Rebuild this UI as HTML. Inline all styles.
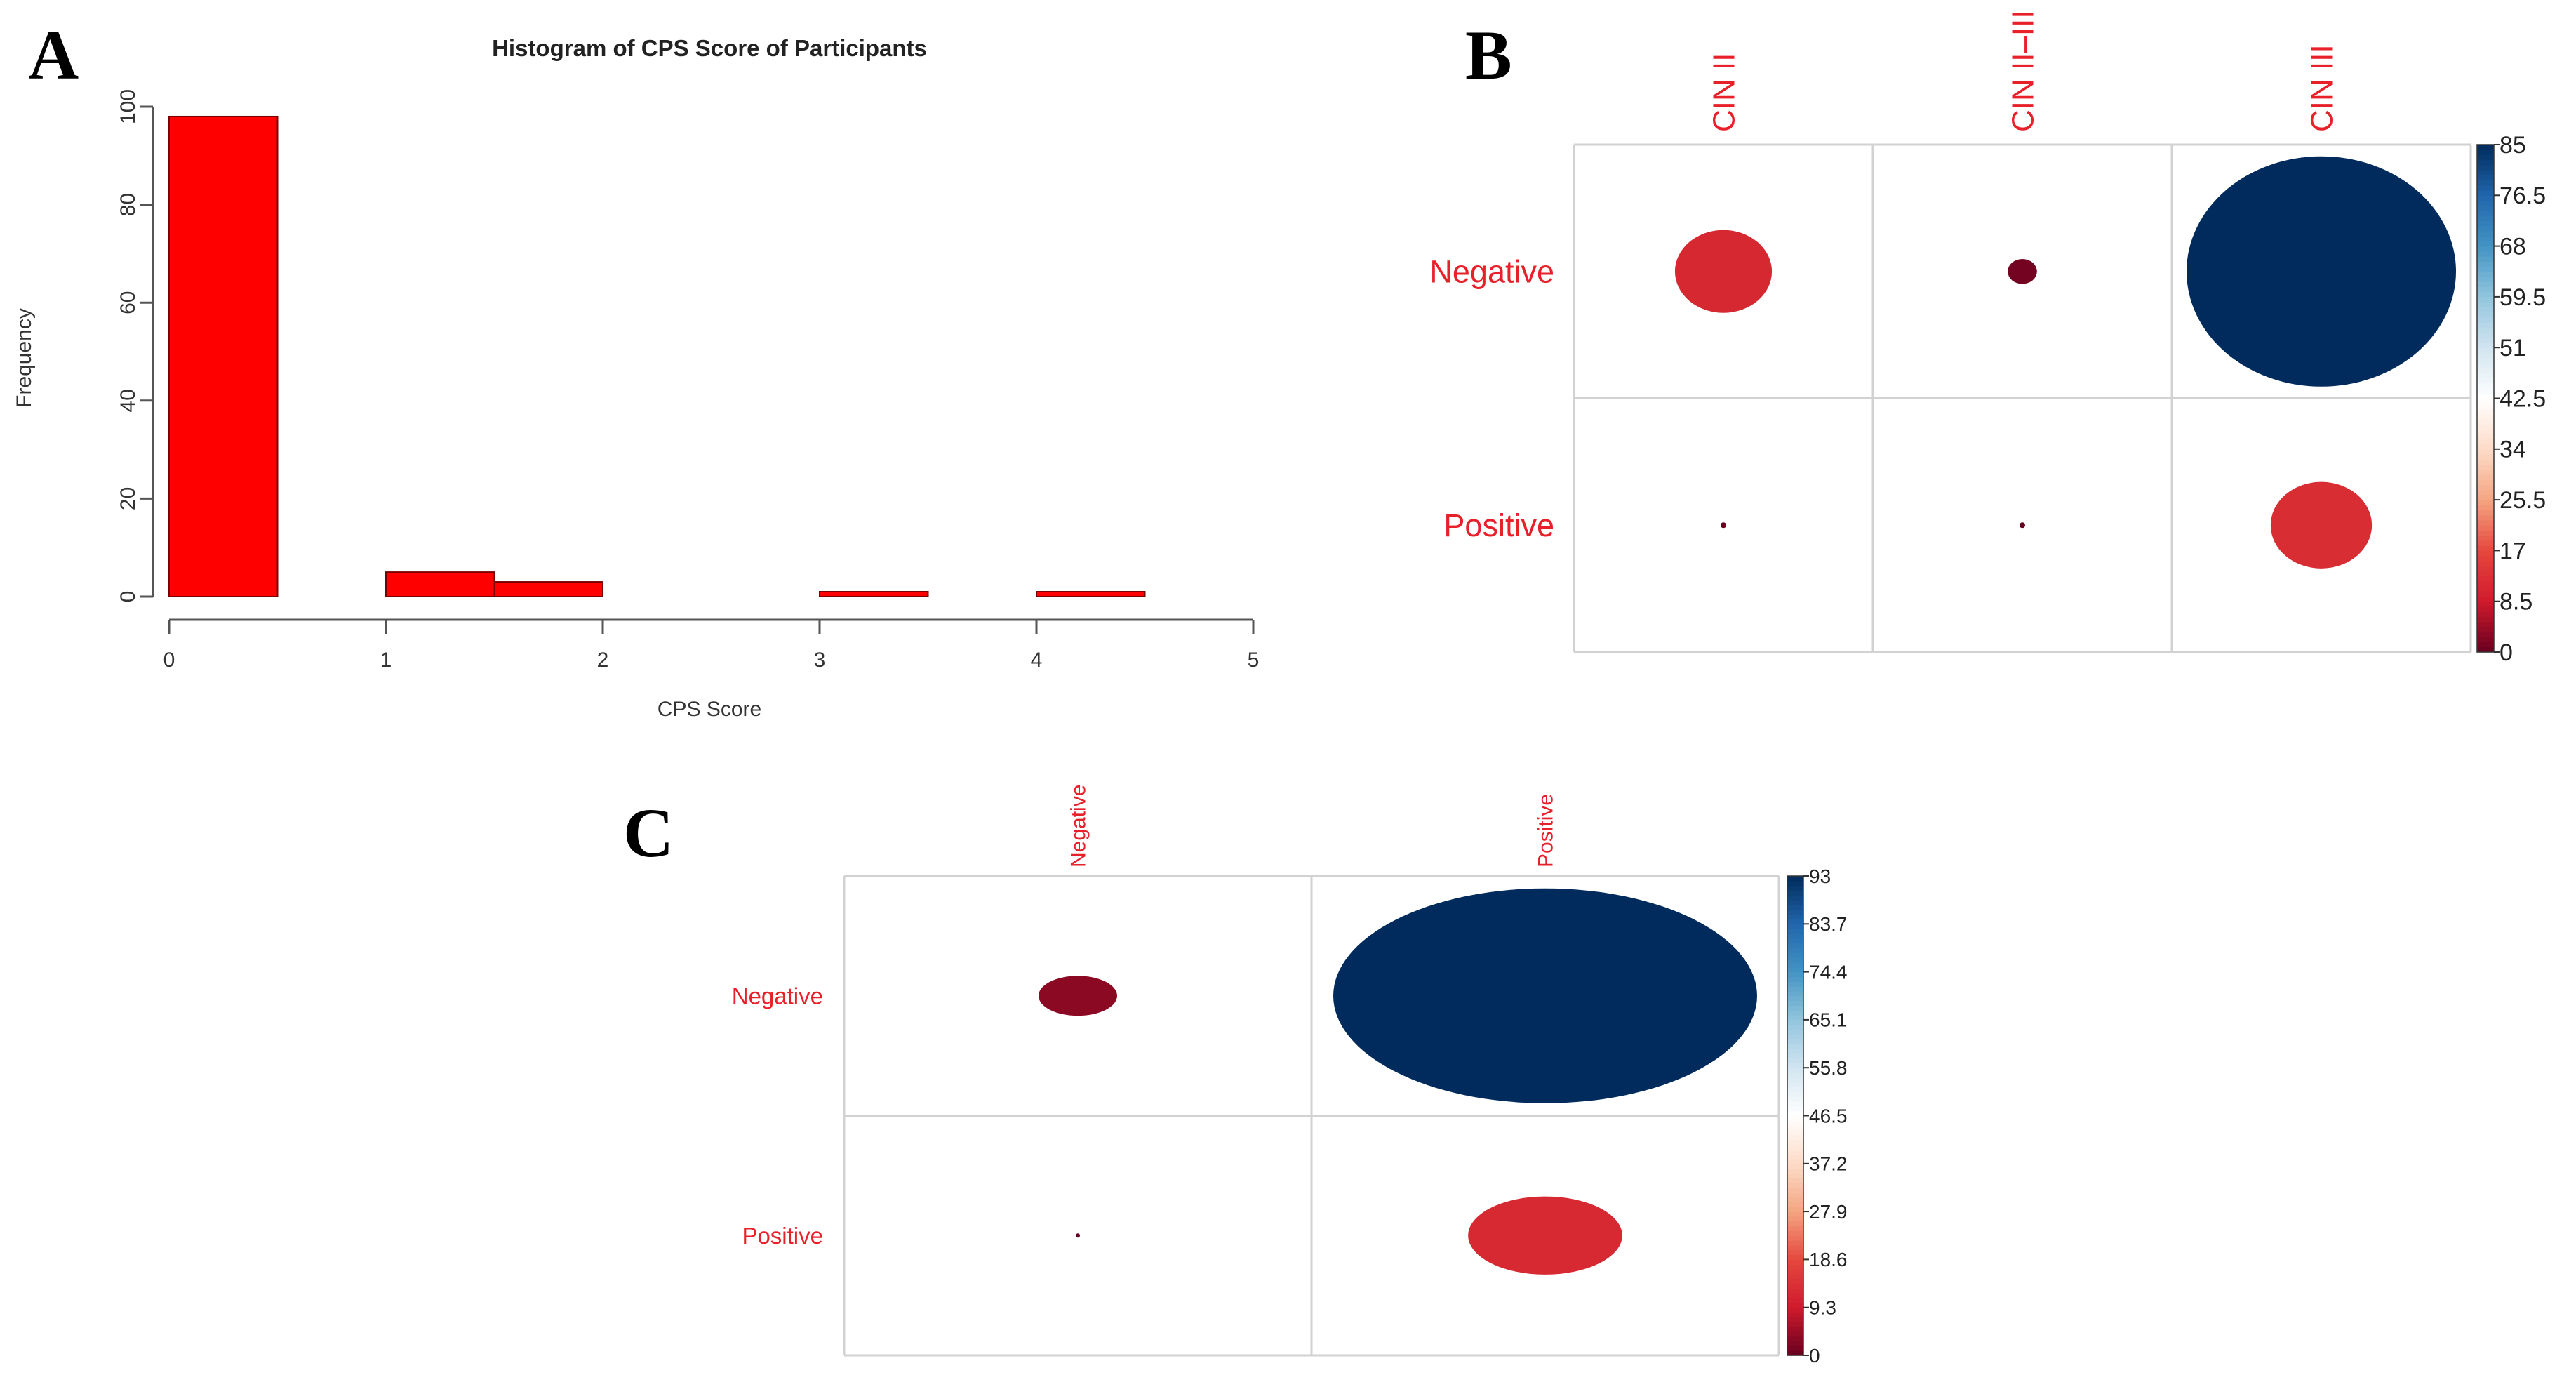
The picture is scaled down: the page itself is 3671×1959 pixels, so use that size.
<!DOCTYPE html>
<html><head><meta charset="utf-8"><style>
html,body{margin:0;padding:0;background:#fff;}
svg{display:block;}
text{font-family:"Liberation Sans",sans-serif;}
text.serif{font-family:"Liberation Serif",serif;}
</style></head><body>
<svg id="fig" xmlns="http://www.w3.org/2000/svg" width="3671" height="1959" viewBox="0 0 3671 1959">
<rect width="3671" height="1959" fill="#fff"/>
<text class="serif" x="40" y="112" font-weight="bold" font-size="100" fill="#000">A</text>
<text class="serif" x="2088" y="112" font-weight="bold" font-size="100" fill="#000">B</text>
<text class="serif" x="888" y="1220" font-weight="bold" font-size="100" fill="#000">C</text>
<g id="hist"></g>
<g id="panelB"></g>
<g id="panelC"></g>
</svg>
<script>
const NS="http://www.w3.org/2000/svg";
function mk(parent,tag,attrs,txt){const e=document.createElementNS(NS,tag);for(const k in attrs)e.setAttribute(k,attrs[k]);if(txt!==undefined)e.textContent=txt;parent.appendChild(e);return e;}

// ---- Histogram data ----
const binStarts=[0,0.5,1,1.5,2,2.5,3,3.5,4];
const binCounts=[98,0,5,3,0,0,1,0,1];
const xTicks=[0,1,2,3,4,5];
const yTicks=[0,20,40,60,80,100];

// ---- Panel B data ----
const bRows=["Negative","Positive"];
const bCols=["CIN II","CIN II\u2013III","CIN III"];
const bValues=[[11,1,85],[0,0,12]];
const bTicks=["85","76.5","68","59.5","51","42.5","34","25.5","17","8.5","0"];
const bMax=85;

// ---- Panel C data ----
const cRows=["Negative","Positive"];
const cCols=["Negative","Positive"];
const cValues=[[3.2,93],[0,12.3]];
const cTicks=["93","83.7","74.4","65.1","55.8","46.5","37.2","27.9","18.6","9.3","0"];
const cMax=93;

const PAL=["#67001F","#CF1A2C","#E5483E","#F4A582","#FDDBC7","#FFFFFF","#D1E5F0","#92C5DE","#4393C3","#2166AC","#002B5C"];
function hex2(c){return [parseInt(c.slice(1,3),16),parseInt(c.slice(3,5),16),parseInt(c.slice(5,7),16)];}
function colAt(t){t=Math.max(0,Math.min(1,t));const p=t*(PAL.length-1);const i=Math.min(PAL.length-2,Math.floor(p));const f=p-i;const a=hex2(PAL[i]),b=hex2(PAL[i+1]);return "rgb("+a.map((v,k)=>Math.round(v+(b[k]-v)*f)).join(",")+")";}

// ---- Histogram ----
(function(){
const g=document.getElementById('hist');
const X0=241,X1=1786,Y0=850,Y1=152;
const sx=v=>X0+(v-0)/(5-0)*(X1-X0);
const sy=v=>Y0-(v/100)*(Y0-Y1);
const t=mk(g,'text',{x:1011,y:80,'text-anchor':'middle','font-size':33,'font-weight':'bold',fill:'#222'},'Histogram of CPS Score of Participants');


binStarts.forEach((s,i)=>{
  const x=sx(s),w=sx(s+0.5)-x,y=sy(binCounts[i]);
  const r=mk(g,'rect',{x:x,y:y,width:w,height:Y0-y,fill:'#ff0000',stroke:'#7a0000','stroke-width':2});
  
  
});
const xa=mk(g,'g',{});


mk(xa,'line',{x1:sx(0),x2:sx(5),y1:883,y2:883,stroke:'#555','stroke-width':3});
xTicks.forEach(v=>{
  mk(xa,'line',{x1:sx(v),x2:sx(v),y1:883,y2:903,stroke:'#555','stroke-width':3});
  const l=mk(xa,'text',{x:sx(v),y:950,'text-anchor':'middle','font-size':30,fill:'#333'},String(v));
  
  
});
const xt=mk(g,'text',{x:1011,y:1020,'text-anchor':'middle','font-size':30,fill:'#333'},'CPS Score');


const ya=mk(g,'g',{});


mk(ya,'line',{x1:218,x2:218,y1:sy(0),y2:sy(100),stroke:'#555','stroke-width':3});
yTicks.forEach(v=>{
  mk(ya,'line',{x1:200,x2:218,y1:sy(v),y2:sy(v),stroke:'#555','stroke-width':3});
  const l=mk(ya,'text',{x:192,y:sy(v),'text-anchor':'middle','font-size':30,fill:'#333',transform:'rotate(-90 192 '+sy(v)+')'},String(v));
  
  
});
const yt=mk(g,'text',{x:44,y:510,'text-anchor':'middle','font-size':30,fill:'#333',transform:'rotate(-90 44 510)'},'Frequency');


})();

// ---- Corrplot builder ----
function corr(gid,o){
const g=document.getElementById(gid);
const nr=o.rows.length,nc=o.cols.length;
const cw=(o.x1-o.x0)/nc,ch=(o.y1-o.y0)/nr;
o.values.forEach((row,i)=>row.forEach((v,j)=>{
  const cx=o.x0+cw*(j+0.5),cy=o.y0+ch*(i+0.5);
  const f=Math.sqrt(v/o.max);
  const rx=Math.max(o.minR,f*o.maxRx),ry=Math.max(o.minR,f*o.maxRy);
  const e=mk(g,'ellipse',{cx:cx,cy:cy,rx:rx,ry:ry,fill:colAt(v/o.max)});
  
  
}));
for(let j=0;j<=nc;j++)mk(g,'line',{x1:o.x0+cw*j,x2:o.x0+cw*j,y1:o.y0,y2:o.y1,stroke:'#d2d2d2','stroke-width':3});
for(let i=0;i<=nr;i++)mk(g,'line',{x1:o.x0,x2:o.x1,y1:o.y0+ch*i,y2:o.y0+ch*i,stroke:'#d2d2d2','stroke-width':3});
o.rows.forEach((r,i)=>{
  const t=mk(g,'text',{x:o.x0-o.rowGap,y:o.y0+ch*(i+0.5)+o.rowFs*0.35,'text-anchor':'end','font-size':o.rowFs,fill:'#e8202a'},r);
  
  
});
o.cols.forEach((c,j)=>{
  const x=o.x0+cw*(j+0.5)+o.colFs*0.35,y=o.y0-o.colGap;
  const t=mk(g,'text',{x:x,y:y,'text-anchor':'start','font-size':o.colFs,fill:'#e8202a',transform:'rotate(-90 '+x+' '+y+')'},c);
  
  
});
// colorbar
const cb=mk(g,'g',{});


const N=100,h=(o.y1-o.y0)/N;
for(let k=0;k<N;k++)mk(cb,'rect',{x:o.cbx,y:o.y1-h*(k+1),width:o.cbw,height:h+0.6,fill:colAt((k+0.5)/N)});
mk(cb,'rect',{x:o.cbx,y:o.y0,width:o.cbw,height:o.y1-o.y0,fill:'none',stroke:'#333','stroke-width':1.5});
o.ticks.forEach((tk,k)=>{
  const y=o.y0+(o.y1-o.y0)*k/(o.ticks.length-1);
  mk(cb,'line',{x1:o.cbx+o.cbw,x2:o.cbx+o.cbw+8,y1:y,y2:y,stroke:'#333','stroke-width':2});
  const t=mk(cb,'text',{x:o.cbx+o.cbw+8,y:y+o.tickFs*0.35,'font-size':o.tickFs,fill:'#222'},tk);
  
  
});
}
corr('panelB',{rows:bRows,cols:bCols,values:bValues,max:bMax,ticks:bTicks,x0:2243,x1:3521,y0:206,y1:929,maxRx:192,maxRy:164,minR:4,rowGap:28,rowFs:45,colGap:18,colFs:44,cbx:3530,cbw:24,tickFs:34});
corr('panelC',{rows:cRows,cols:cCols,values:cValues,max:cMax,ticks:cTicks,x0:1203,x1:2535,y0:1248,y1:1931,maxRx:302,maxRy:153,minR:3,rowGap:30,rowFs:33,colGap:12,colFs:30,cbx:2547,cbw:23,tickFs:28});
</script>
</body></html>
